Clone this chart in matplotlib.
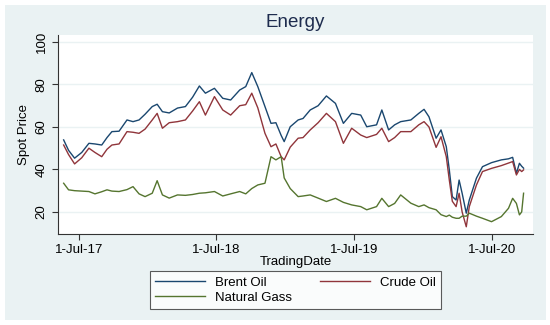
import numpy as np
import pandas as pd
import matplotlib
matplotlib.use("Agg")
import matplotlib.pyplot as plt
import matplotlib.dates as mdates
import matplotlib.patches as patches

plt.rcParams['font.family'] = ['Liberation Sans', 'DejaVu Sans']

# values
dates = ["2017-05-22", "2017-06-04", "2017-06-20", "2017-07-09", "2017-07-28", "2017-08-13",
         "2017-08-31", "2017-09-14", "2017-09-27", "2017-10-16", "2017-11-06", "2017-11-22",
         "2017-12-08", "2017-12-24", "2018-01-12", "2018-01-25", "2018-02-08", "2018-02-26",
         "2018-03-20", "2018-04-10", "2018-04-29", "2018-05-17", "2018-06-02", "2018-06-26",
         "2018-07-18", "2018-08-08", "2018-09-01", "2018-09-17", "2018-10-03", "2018-10-19",
         "2018-11-07", "2018-11-23", "2018-12-06", "2018-12-20", "2018-12-28", "2019-01-13",
         "2019-02-03", "2019-02-16", "2019-03-07", "2019-03-28", "2019-04-19", "2019-05-13",
         "2019-06-03", "2019-06-25", "2019-07-19", "2019-08-04", "2019-08-30", "2019-09-13",
         "2019-10-01", "2019-10-17", "2019-11-02", "2019-11-29", "2019-12-20", "2020-01-03",
         "2020-01-16", "2020-02-04", "2020-02-17", "2020-03-02", "2020-03-10", "2020-03-18",
         "2020-03-28", "2020-04-05", "2020-04-13", "2020-04-24", "2020-05-02", "2020-05-21",
         "2020-06-06", "2020-06-30", "2020-07-26", "2020-08-14", "2020-08-25", "2020-09-04",
         "2020-09-12", "2020-09-18", "2020-09-23"]

brent = [53.9, 49.0, 45.3, 48.0, 52.3, 52.0, 51.5, 55.0, 57.8, 58.0, 63.3, 62.5,
         63.3, 66.0, 69.6, 70.7, 67.2, 66.6, 68.9, 69.6, 74.0, 79.3, 75.9, 78.2,
         73.5, 72.7, 77.4, 79.0, 85.6, 79.0, 69.6, 61.7, 62.0, 56.0, 53.1, 60.1,
         63.3, 64.0, 68.0, 70.0, 74.6, 71.1, 61.7, 66.4, 65.6, 60.1, 61.0, 68.0,
         58.6, 61.0, 62.5, 63.3, 66.4, 68.3, 64.8, 54.7, 58.6, 50.7, 39.8, 27.2,
         25.6, 35.0, 28.8, 19.4, 25.6, 35.9, 41.3, 43.2, 44.5, 45.0, 45.7, 38.2,
         42.9, 41.5, 40.6]

crude = [51.5, 47.0, 42.6, 45.5, 50.0, 48.0, 46.0, 49.5, 51.5, 52.0, 57.8, 57.5,
         57.0, 59.0, 63.3, 66.4, 59.4, 62.0, 62.5, 63.3, 67.5, 71.9, 65.6, 74.3,
         68.0, 65.6, 70.0, 70.5, 75.9, 69.0, 57.0, 50.7, 52.0, 46.0, 44.5, 50.5,
         54.7, 55.0, 58.6, 62.0, 66.4, 62.5, 52.3, 59.4, 56.2, 55.0, 56.5, 59.4,
         53.1, 55.0, 57.8, 57.8, 61.0, 62.5, 60.0, 50.4, 55.4, 46.0, 35.0, 25.0,
         22.5, 28.8, 20.0, 13.0, 22.5, 32.7, 39.0, 40.5, 41.8, 43.0, 43.7, 37.4,
         40.0, 39.0, 39.8]

gas = [33.5, 30.4, 30.0, 29.8, 29.6, 28.5, 29.5, 30.4, 29.8, 29.6, 30.5, 31.9,
       28.5, 27.2, 28.8, 34.7, 28.0, 26.5, 28.0, 27.8, 28.2, 28.8, 29.0, 29.6,
       27.5, 28.5, 29.6, 28.5, 31.0, 32.7, 33.5, 46.0, 44.5, 46.0, 36.0, 31.0,
       27.2, 27.5, 28.0, 26.5, 24.9, 26.4, 24.5, 23.3, 22.5, 21.0, 22.5, 26.4,
       22.5, 24.0, 28.0, 24.1, 22.5, 23.3, 22.0, 21.0, 18.7, 17.8, 18.5, 17.5,
       17.0, 17.0, 18.0, 18.0, 19.4, 18.0, 17.0, 15.4, 17.8, 21.7, 26.4, 24.0,
       18.6, 20.0, 28.8]

series_names = ["Brent Oil", "Crude Oil", "Natural Gass"]
series_colors = ["#1a476f", "#90353b", "#55752f"]
y_ticks = [20, 40, 60, 80, 100]
x_ticks = ["2017-07-01", "2018-07-01", "2019-07-01", "2020-07-01"]
x_tick_labels = ["1-Jul-17", "1-Jul-18", "1-Jul-19", "1-Jul-20"]

bg = "#eaf2f3"
t = pd.to_datetime(dates)

fig = plt.figure(figsize=(5.5, 3.25), dpi=100, facecolor="white")
fig.patches.append(patches.Rectangle((5 / 550, 5 / 325), 541 / 550, 315 / 325,
                                     transform=fig.transFigure, facecolor=bg,
                                     edgecolor="none", zorder=-10))
ax = fig.add_axes([58 / 550, 1 - 234 / 325, 475 / 550, 199 / 325])
ax.set_facecolor("white")

lines = []
for vals, name, col in zip([brent, crude, gas], series_names, series_colors):
    ln, = ax.plot(t, vals, color=col, linewidth=1.0, label=name)
    lines.append(ln)

ax.set_ylim(9.6, 103.3)
ax.set_xlim(pd.Timestamp("2017-05-07"), pd.Timestamp("2020-10-18"))
ax.set_yticks(y_ticks)
ax.set_yticklabels([str(v) for v in y_ticks], rotation=90, va="center", fontsize=9.5)
ax.set_xticks(pd.to_datetime(x_ticks))
ax.set_xticklabels(x_tick_labels, fontsize=9.5)
ax.yaxis.grid(True, color=bg, linewidth=1.0)
ax.set_axisbelow(True)

for s in ["top", "right"]:
    ax.spines[s].set_visible(False)
for s in ["left", "bottom"]:
    ax.spines[s].set_color("#333333")
    ax.spines[s].set_linewidth(0.8)
ax.tick_params(axis="both", colors="#333333", length=4, width=0.8, labelcolor="black")

ax.set_ylabel("Spot Price", fontsize=9.5, labelpad=4)
ax.set_xlabel("TradingDate", fontsize=9.5, labelpad=0)
ax.set_title("Energy", fontsize=13.5, color="#1e2c4e", pad=6)

leg = fig.legend([lines[0], lines[2], lines[1]],
                 [series_names[0], series_names[2], series_names[1]],
                 ncol=2, loc="upper left",
                 bbox_to_anchor=(150 / 550, 1 - 271 / 325),
                 fontsize=9.5, frameon=True, fancybox=False,
                 handlelength=3.8, handletextpad=0.75, columnspacing=2.1,
                 borderpad=0.4, labelspacing=0.25, borderaxespad=0)
leg.get_frame().set_edgecolor("#333333")
leg.get_frame().set_linewidth(0.8)
leg.get_frame().set_facecolor("white")

fig.savefig("out.png", dpi=100, facecolor=fig.get_facecolor())
